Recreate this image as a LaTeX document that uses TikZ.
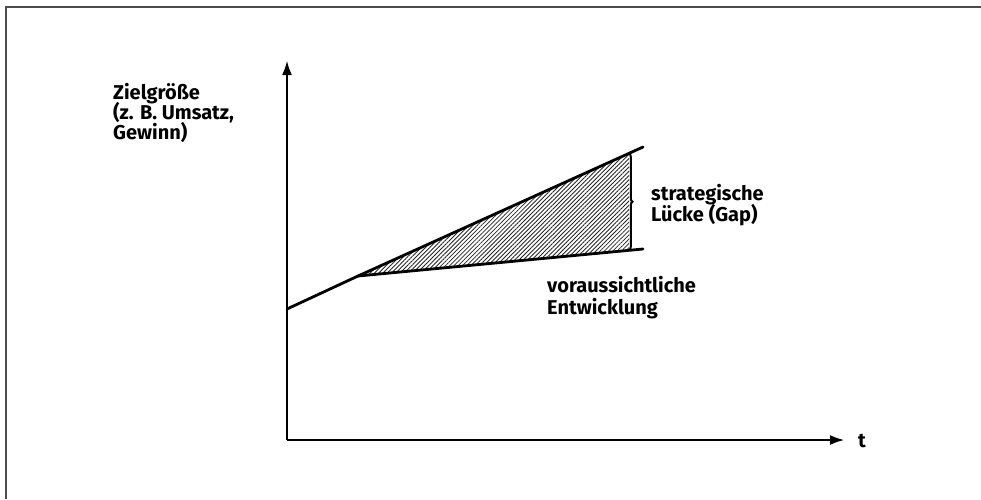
\documentclass[tikz,border=0pt]{standalone}
\usepackage{fontspec}
\setmainfont{Fira Sans}
\usetikzlibrary{arrows.meta,patterns.meta,decorations.pathreplacing}
\tikzset{
  frame/.style={draw=black!70,line width=2pt},
  axis/.style={line width=2.8pt,-{Latex[length=15pt,width=10pt]}},
  curve/.style={line width=2.8pt,line cap=round},
  lbl/.style={anchor=base west,inner sep=0pt,font=\fontsize{20}{21}\selectfont\bfseries},
  hatch/.style={pattern={Lines[angle=45,distance=3pt,line width=0.85pt]},pattern color=black!85},
}
\begin{document}
\begin{tikzpicture}[x=1pt,y=-1pt]
\useasboundingbox (0,0) rectangle (981,499);
\fill[white] (0,0) rectangle (981,499);
% frame
\draw[frame] (6,499) -- (6,7) -- (981,7);
% coordinates
\coordinate (O) at (287,440);
\coordinate (ytop) at (287,60);
\coordinate (xend) at (845,440);
\coordinate (s) at (287,309);
\coordinate (k) at (358,276);
\coordinate (u) at (643,147);
\coordinate (l) at (643,249);
\coordinate (hu) at (629,153.3);
\coordinate (hl) at (629,250.3);
% hatch
\fill[hatch] (k) -- (hu) -- (hl) -- cycle;
% axes
\draw[axis] (O) -- (ytop);
\draw[axis] (O) -- (xend);
% curves
\draw[curve] (s) -- (k) -- (u);
\draw[curve] (k) -- (l);
% brace
\draw[line width=2pt,decorate,decoration={brace,amplitude=3.5pt,aspect=0.5}] (hu) -- (hl);
% labels
\node[lbl] (t) at (858,447) {t};
\node[lbl] (z1) at (113,99) {Zielgröße};
\node[lbl] (z2) at (113,119) {(z. B. Umsatz,};
\node[lbl] (z3) at (113,139) {Gewinn)};
\node[lbl] (g1) at (651,200) {strategische};
\node[lbl] (g2) at (651,221) {Lücke (Gap)};
\node[lbl] (v1) at (547,292) {voraussichtliche};
\node[lbl] (v2) at (547,314) {Entwicklung};
\end{tikzpicture}
\end{document}
